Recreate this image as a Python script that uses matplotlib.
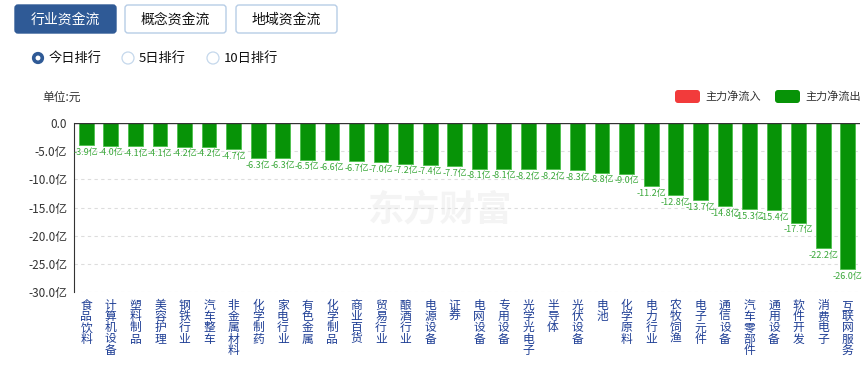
import matplotlib.pyplot as plt
from matplotlib.patches import FancyBboxPatch, Circle

plt.rcParams['font.family'] = ['Noto Sans CJK SC', 'DejaVu Sans']

# 行业资金流 - 今日排行 (单位: 亿元)
categories = ["食品饮料", "计算机设备", "塑料制品", "美容护理", "钢铁行业", "汽车整车",
              "非金属材料", "化学制药", "家电行业", "有色金属", "化学制品", "商业百货",
              "贸易行业", "酿酒行业", "电源设备", "证券", "电网设备", "专用设备",
              "光学光电子", "半导体", "光伏设备", "电池", "化学原料", "电力行业",
              "农牧饲渔", "电子元件", "通信设备", "汽车零部件", "通用设备", "软件开发",
              "消费电子", "互联网服务"]
net_flow = [-3.9, -4.0, -4.1, -4.1, -4.2, -4.2, -4.7, -6.3, -6.3, -6.5, -6.6, -6.7,
            -7.0, -7.2, -7.4, -7.7, -8.1, -8.1, -8.2, -8.2, -8.3, -8.8, -9.0, -11.2,
            -12.8, -13.7, -14.8, -15.3, -15.4, -17.7, -22.2, -26.0]
y_ticks = [0, -5, -10, -15, -20, -25, -30]

W, H = 867, 365
fig = plt.figure(figsize=(W / 100, H / 100), dpi=100)

# eixo "de fundo" em pixels para os controles (botões, rádios, legenda)
bg = fig.add_axes([0, 0, 1, 1], zorder=0)
bg.set_xlim(0, W)
bg.set_ylim(H, 0)
bg.axis("off")

# --- botões do topo ---
buttons = [("行业资金流", 15, True), ("概念资金流", 125, False), ("地域资金流", 236, False)]
for txt, x0, active in buttons:
    bg.add_patch(FancyBboxPatch((x0, 5), 101, 28, boxstyle="round,pad=0,rounding_size=3",
                                facecolor="#2f5a96" if active else "white",
                                edgecolor="#2f5a96" if active else "#b7cde6", linewidth=1))
    bg.text(x0 + 50.5, 19.5, txt, ha="center", va="center", fontsize=10,
            color="white" if active else "#111111")

# --- opções de ranking ---
radios = [("今日排行", 38, True), ("5日排行", 128, False), ("10日排行", 213, False)]
for txt, cx, checked in radios:
    if checked:
        bg.add_patch(Circle((cx, 58), 4.3, facecolor="white", edgecolor="#2f5a96", linewidth=2.6))
    else:
        bg.add_patch(Circle((cx, 58), 6, facecolor="white", edgecolor="#c5d8ec", linewidth=0.9))
    bg.text(cx + 11, 58, txt, ha="left", va="center", fontsize=9.5, color="#111111")

bg.text(42, 97, "单位:元", ha="left", va="center", fontsize=8.5, color="#333333")

# --- legenda ---
for label, color, x0 in [("主力净流入", "#f23b3b", 675), ("主力净流出", "#079307", 775)]:
    bg.add_patch(FancyBboxPatch((x0, 90), 25, 13, boxstyle="round,pad=0,rounding_size=3",
                                facecolor=color, edgecolor="none"))
    bg.text(x0 + 30, 96, label, ha="left", va="center", fontsize=8, color="#333333")

# marca d'água
bg.text(440, 210, "东方财富", ha="center", va="center", fontsize=26, fontweight="bold",
        color="#f4f4f4")

# --- gráfico de barras ---
left, right, top, bottom = 74, 860, 123, 292
ax = fig.add_axes([left / W, 1 - bottom / H, (right - left) / W, (bottom - top) / H], zorder=1)
ax.patch.set_alpha(0)
xs = list(range(len(categories)))
ax.bar(xs, net_flow, width=0.6, color="#079307", edgecolor="#4cc04c", linewidth=0.6, zorder=3)
ax.set_xlim(-0.5, len(categories) - 0.5)
ax.set_ylim(-30, 0)
ax.set_yticks(y_ticks)
ax.set_yticklabels(["0.0"] + [f"{v:.1f}亿" for v in y_ticks[1:]], fontsize=8.5, color="#333333")
ax.tick_params(axis="y", length=0, pad=5)
for v in y_ticks[1:]:
    ax.axhline(v, color="#dddddd", linestyle=(0, (3, 3)), linewidth=0.8, zorder=1)
ax.axhline(0, color="#333333", linewidth=1, zorder=4)
for s in ["top", "right", "bottom"]:
    ax.spines[s].set_visible(False)
ax.spines["left"].set_color("#333333")

ax.set_xticks(xs)
ax.set_xticklabels(["\n".join(c) for c in categories], fontsize=8.5, color="#1f3f95",
                   va="top", linespacing=0.82)
ax.tick_params(axis="x", length=0, pad=5)

for x, v in zip(xs, net_flow):
    ax.annotate(f"{v:.1f}亿", (x, v), xytext=(0, -2), textcoords="offset points",
                ha="center", va="top", fontsize=6.5, color="#3aa83a", zorder=5)

fig.savefig("out.png", dpi=100)
